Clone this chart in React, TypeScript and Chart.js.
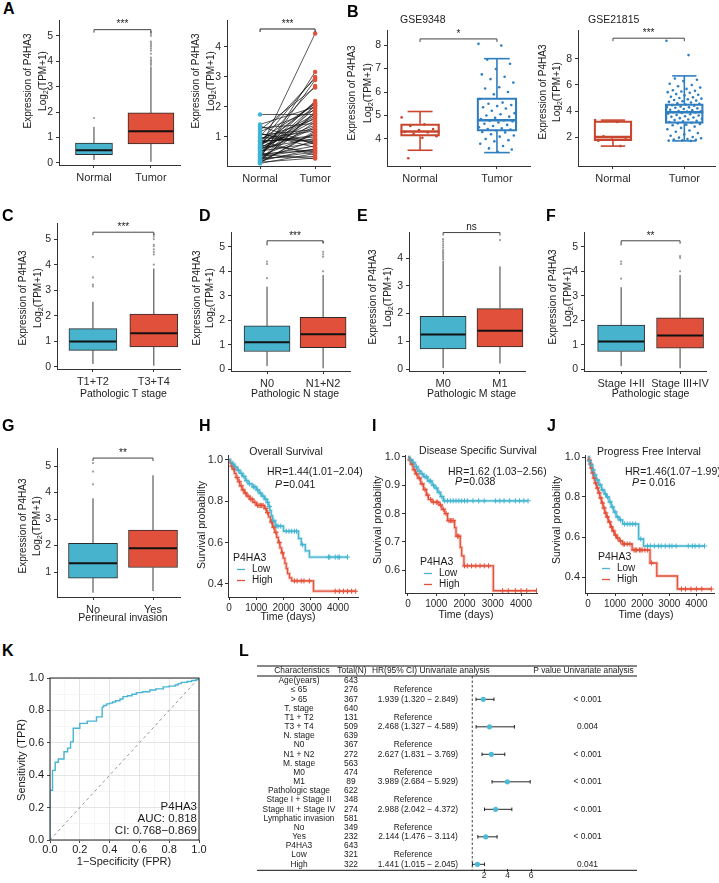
import React, { useEffect, useRef } from 'react';
import { Chart, registerables } from 'chart.js';

Chart.register(...registerables);

// ====================== DATA ======================
// box stats: [lower whisker, Q1, median, Q3, upper whisker]
const A_CATS = ['Normal', 'Tumor'];
const A1_TICKS = [0, 1, 2, 3, 4, 5];
const A1_NORMAL_BOX = [0.12, 0.33, 0.5, 0.78, 1.42];
const A1_TUMOR_BOX = [0.05, 0.75, 1.25, 1.97, 3.8];
const A1_NORMAL_OUT = [1.77];
const A1_TUMOR_OUT = [3.86, 3.92, 3.98, 4.03, 4.08, 4.15, 4.3, 4.42, 4.5, 4.58, 4.65, 4.72, 4.78, 5.0, 5.08, 5.15];

const A2_TICKS = [1, 2, 3, 4];
const A2_NORMAL = [0.12, 0.14, 0.16, 0.18, 0.2, 0.22, 0.24, 0.27, 0.3, 0.33, 0.36, 0.38, 0.41, 0.44, 0.47, 0.5, 0.53, 0.56, 0.6, 0.63, 0.66, 0.7, 0.73, 0.76, 0.8, 0.83, 0.86, 0.9, 0.94, 0.98, 1.02, 1.07, 1.12, 1.18, 1.24, 1.3, 1.36, 1.42, 1.75, 0.15, 0.28, 0.42, 0.58, 0.72, 0.88, 0.2, 0.35, 0.52, 0.68, 0.85, 0.25, 0.45, 0.62, 0.95, 1.1];
const A2_TUMOR = [0.45, 1.2, 0.3, 1.85, 0.6, 2.05, 0.9, 1.5, 0.35, 2.9, 1.1, 0.7, 1.95, 0.55, 2.2, 1.3, 0.8, 1.65, 4.45, 0.95, 1.4, 2.15, 0.5, 1.75, 3.0, 1.05, 0.4, 2.1, 1.6, 0.85, 2.95, 1.25, 0.65, 1.9, 2.65, 1.45, 0.75, 2.0, 1.75, 1.15, 3.17, 0.28, 1.55, 2.7, 0.9, 1.8, 0.6, 1.35, 2.12, 1.0, 0.5, 2.05, 1.7, 1.2, 0.8];

const B1_TICKS = [4, 5, 6, 7, 8];
const B1_NORMAL_BOX = [3.52, 4.12, 4.32, 4.65, 5.17];
const B1_TUMOR_BOX = [3.42, 4.33, 4.8, 5.75, 7.42];
const B1_NORMAL_PTS = [4.92, 4.62, 4.55, 4.42, 4.38, 4.3, 4.28, 4.22, 4.12, 4.05, 3.18];
const B1_TUMOR_PTS = [8.05, 7.98, 7.38, 7.2, 6.98, 6.75, 6.65, 6.55, 6.4, 6.2, 6.15, 6.0, 5.9, 5.7, 5.55, 5.5, 5.45, 5.4, 5.35, 5.3, 5.2, 5.1, 5.05, 5.0, 4.95, 4.9, 4.85, 4.8, 4.78, 4.75, 4.7, 4.65, 4.6, 4.55, 4.5, 4.45, 4.42, 4.4, 4.35, 4.3, 4.28, 4.2, 4.15, 4.1, 4.0, 3.95, 3.9, 3.8, 3.7, 3.6, 3.55, 3.45];

const B2_TICKS = [2, 4, 6, 8];
const B2_NORMAL_BOX = [1.3, 1.72, 2.0, 3.25, 3.3];
const B2_TUMOR_BOX = [1.7, 3.05, 3.9, 4.55, 6.7];
const B2_NORMAL_PTS = [3.3, 3.15, 2.05, 1.95, 1.8, 1.72, 1.3];
const B2_TUMOR_PTS = [9.4, 8.3, 6.5, 6.4, 6.3, 6.1, 6.0, 5.9, 5.8, 5.7, 5.6, 5.55, 5.5, 5.45, 5.4, 5.3, 5.25, 5.2, 5.1, 5.05, 5.0, 4.95, 4.9, 4.85, 4.8, 4.75, 4.7, 4.65, 4.6, 4.55, 4.5, 4.45, 4.4, 4.35, 4.3, 4.28, 4.25, 4.2, 4.15, 4.1, 4.05, 4.0, 3.98, 3.95, 3.9, 3.88, 3.85, 3.8, 3.75, 3.7, 3.65, 3.6, 3.55, 3.5, 3.45, 3.4, 3.35, 3.3, 3.25, 3.2, 3.15, 3.1, 3.05, 3.0, 2.95, 2.9, 2.8, 2.7, 2.6, 2.5, 2.4, 2.3, 2.2, 2.1, 2.0, 1.95, 1.9, 1.85, 1.8, 1.78, 1.75, 1.72, 1.7];

const STAGE_TICKS = [0, 1, 2, 3, 4, 5];
const C_CATS = ['T1+T2', 'T3+T4'];
const C_LOW_BOX = [0.12, 0.65, 1.0, 1.5, 2.55];
const C_HIGH_BOX = [0.05, 0.78, 1.32, 2.07, 3.85];
const C_LOW_OUT = [3.15, 3.22, 3.5, 4.3];
const C_HIGH_OUT = [4.0, 4.4, 4.5, 4.6, 4.72, 4.78, 5.0, 5.1, 5.18];

const D_CATS = ['N0', 'N1+N2'];
const D_LOW_BOX = [0.12, 0.72, 1.1, 1.77, 3.37];
const D_HIGH_BOX = [0.03, 0.87, 1.42, 2.12, 3.85];
const D_LOW_OUT = [3.72, 4.3, 4.4, 5.1];
const D_HIGH_OUT = [4.0, 4.6, 4.7, 4.8, 5.2];

const E_TICKS = [0, 1, 2, 3, 4];
const E_CATS = ['M0', 'M1'];
const E_LOW_BOX = [0.03, 0.73, 1.25, 1.9, 3.9];
const E_HIGH_BOX = [0.2, 0.8, 1.38, 2.18, 3.7];
const E_LOW_OUT = [3.95, 4.0, 4.05, 4.1, 4.15, 4.2, 4.25, 4.3, 4.38, 4.45, 4.52, 4.6, 4.68];
const E_HIGH_OUT = [4.65];

const F_CATS = ['Stage I+II', 'Stage III+IV'];
const F_LOW_BOX = [0.12, 0.72, 1.13, 1.8, 3.35];
const F_HIGH_BOX = [0.03, 0.85, 1.37, 2.1, 3.85];
const F_LOW_OUT = [3.7, 4.3, 4.4, 5.1];
const F_HIGH_OUT = [4.0, 4.55, 4.62];

const G_TICKS = [1, 2, 3, 4, 5];
const G_CATS = ['No', 'Yes'];
const G_LOW_BOX = [0.22, 0.77, 1.33, 2.08, 3.78];
const G_HIGH_BOX = [0.28, 1.17, 1.9, 2.58, 4.65];
const G_LOW_OUT = [4.31, 4.79, 5.11];
const G_HIGH_OUT: number[] = [];

// Kaplan-Meier: event times (days) and survival after each event; censor times
const KM_XTICKS = [0, 1000, 2000, 3000, 4000];
const H_LOW_T = [0, 50, 120, 200, 300, 400, 500, 600, 700, 850, 1000, 1100, 1200, 1300, 1400, 1450, 1500, 1550, 1600, 1700, 2000, 2550, 2650, 2800, 2950];
const H_LOW_S = [1, 0.99, 0.98, 0.965, 0.95, 0.935, 0.92, 0.9, 0.885, 0.87, 0.855, 0.84, 0.825, 0.81, 0.795, 0.775, 0.755, 0.73, 0.705, 0.68, 0.655, 0.62, 0.59, 0.56, 0.53];
const H_LOW_CENS = [150, 250, 350, 450, 550, 650, 750, 900, 950, 1050, 1150, 1250, 1350, 1420, 1480, 1650, 1750, 1800, 1900, 2100, 2200, 2300, 2400, 2480, 2700, 3650, 3700, 3900, 4000, 4050, 4350];
const H_HIGH_T = [0, 40, 90, 140, 200, 260, 330, 400, 480, 560, 650, 760, 880, 1000, 1300, 1380, 1450, 1520, 1600, 1680, 1750, 1810, 1870, 1930, 1990, 2050, 2100, 2150, 2220, 2300, 3100];
const H_HIGH_S = [1, 0.985, 0.97, 0.955, 0.935, 0.915, 0.895, 0.875, 0.855, 0.84, 0.825, 0.81, 0.795, 0.78, 0.765, 0.745, 0.725, 0.7, 0.675, 0.65, 0.625, 0.6, 0.575, 0.55, 0.525, 0.5, 0.475, 0.45, 0.43, 0.415, 0.365];
const H_HIGH_CENS = [100, 180, 300, 380, 450, 520, 600, 700, 800, 850, 950, 1050, 1100, 1150, 1200, 1250, 1350, 1420, 1560, 1640, 1720, 1850, 1960, 2400, 2500, 2650, 2750, 2950, 3900, 4050, 4200, 4350, 4500, 4650];

const I_LOW_T = [0, 50, 150, 250, 350, 450, 550, 700, 850, 950, 1050, 1150, 1250];
const I_LOW_S = [1, 0.99, 0.98, 0.965, 0.95, 0.94, 0.93, 0.915, 0.9, 0.89, 0.875, 0.86, 0.845];
const I_LOW_CENS = [100, 200, 300, 400, 500, 600, 650, 750, 800, 900, 1000, 1100, 1200, 1300, 1400, 1500, 1600, 1700, 1800, 1900, 2000, 2100, 2300, 2500, 2700, 3100, 3250, 3400, 3600, 3800, 3950, 4100, 4250];
const I_HIGH_T = [0, 40, 100, 180, 260, 350, 450, 550, 650, 720, 850, 1100, 1200, 1300, 1400, 1650, 1700, 1850, 1900, 1980, 3020];
const I_HIGH_S = [1, 0.99, 0.975, 0.955, 0.94, 0.925, 0.905, 0.885, 0.865, 0.85, 0.84, 0.83, 0.815, 0.8, 0.775, 0.75, 0.72, 0.68, 0.65, 0.615, 0.527];
const I_HIGH_CENS = [70, 140, 220, 300, 400, 500, 600, 700, 800, 900, 1000, 1050, 1150, 1250, 1350, 1450, 1500, 1550, 1600, 1750, 1800, 2000, 2100, 2250, 2400, 2550, 2700, 2850, 3350, 3550, 3800, 4000, 4200, 4550];

const J_LOW_T = [0, 40, 100, 160, 220, 300, 400, 500, 600, 680, 780, 860, 950, 1040, 1150, 1280, 1870, 2050];
const J_LOW_S = [1, 0.98, 0.96, 0.935, 0.91, 0.885, 0.86, 0.835, 0.815, 0.8, 0.775, 0.75, 0.725, 0.7, 0.685, 0.665, 0.59, 0.555];
const J_LOW_CENS = [60, 130, 200, 260, 350, 450, 550, 650, 720, 820, 900, 1000, 1100, 1200, 1350, 1450, 1550, 1650, 1750, 1950, 2200, 2300, 2450, 2600, 2700, 2850, 3000, 3100, 3250, 3700, 3850, 3950, 4100, 4300];
const J_HIGH_T = [0, 30, 70, 110, 150, 200, 260, 320, 380, 440, 500, 560, 620, 680, 750, 830, 900, 980, 1060, 1150, 1270, 1630, 2290, 2540, 3300];
const J_HIGH_S = [1, 0.985, 0.965, 0.945, 0.92, 0.895, 0.87, 0.845, 0.82, 0.795, 0.77, 0.745, 0.72, 0.7, 0.675, 0.65, 0.63, 0.61, 0.595, 0.58, 0.565, 0.535, 0.47, 0.405, 0.34];
const J_HIGH_CENS = [50, 90, 130, 180, 230, 280, 350, 420, 480, 540, 600, 660, 720, 800, 870, 950, 1020, 1100, 1200, 1300, 1350, 1450, 1550, 1700, 1750, 1800, 1900, 1950, 2000, 2100, 2200, 2350, 3450, 3600, 3800, 4000, 4200, 4550];

// ROC
const ROC_TICKS = [0, 0.1, 0.2, 0.3, 0.4, 0.5, 0.6, 0.7, 0.8, 0.9, 1.0];
const ROC_FPR = [0, 0, 0.017, 0.035, 0.056, 0.094, 0.118, 0.138, 0.156, 0.2, 0.25, 0.312, 0.35, 0.36, 0.38, 0.4, 0.42, 0.44, 0.47, 0.49, 0.52, 0.55, 0.58, 0.62, 0.67, 0.71, 0.76, 0.8, 0.84, 0.86, 0.88, 0.92, 0.95, 0.98, 1.0];
const ROC_TPR = [0, 0.307, 0.43, 0.48, 0.5, 0.545, 0.567, 0.606, 0.69, 0.72, 0.734, 0.76, 0.82, 0.83, 0.84, 0.845, 0.852, 0.86, 0.87, 0.885, 0.89, 0.9, 0.91, 0.915, 0.926, 0.933, 0.945, 0.95, 0.957, 0.965, 0.973, 0.978, 0.985, 0.99, 1.0];

// Forest table
const L_ROWS = ['Age(years)', '≤ 65', '> 65', 'T. stage', 'T1 + T2', 'T3 + T4', 'N. stage', 'N0', 'N1 + N2', 'M. stage', 'M0', 'M1', 'Pathologic stage', 'Stage I + Stage II', 'Stage III + Stage IV', 'Lymphatic invasion', 'No', 'Yes', 'P4HA3', 'Low', 'High'];
const L_TOTAL = [643, 276, 367, 640, 131, 509, 639, 367, 272, 563, 474, 89, 622, 348, 274, 581, 349, 232, 643, 321, 322];
const L_REF = [false, true, false, false, true, false, false, true, false, false, true, false, false, true, false, false, true, false, false, true, false];
const L_HR = [null, null, 1.939, null, null, 2.468, null, null, 2.627, null, null, 3.989, null, null, 2.988, null, null, 2.144, null, null, 1.441];
const L_LO = [null, null, 1.32, null, null, 1.327, null, null, 1.831, null, null, 2.684, null, null, 2.042, null, null, 1.476, null, null, 1.015];
const L_HI = [null, null, 2.849, null, null, 4.589, null, null, 3.769, null, null, 5.929, null, null, 4.372, null, null, 3.114, null, null, 2.045];
const L_P = ['', '', '< 0.001', '', '', '0.004', '', '', '< 0.001', '', '', '< 0.001', '', '', '< 0.001', '', '', '< 0.001', '', '', '0.041'];
const L_TICKS = [2, 4, 6];

// ====================== STYLE / HELPERS ======================
const FONT = '"Liberation Sans", Arial, Helvetica, sans-serif';
const AX = '#333333';
const TXT = '#1a1a1a';
const TICKTXT = '#2b2b2b';
const BLUE = '#47B3CC';
const RED = '#E1503A';
const OUT_GRAY = '#9a9a9a';
const B_RED = '#C8452E';
const B_BLUE = '#2F7EC0';
const KM_BLUE = '#45B5D1';
const KM_RED = '#E4513B';
const KM_BLUE_HALO = 'rgba(69,181,209,0.3)';
const KM_RED_HALO = 'rgba(228,81,59,0.3)';

type Rect = [number, number, number, number];
type Area = [number, number, number, number];

const jit = (k: number) => ((k * 0.6180339887) % 1) - 0.5;

function mkG(chart: any, rect: Rect) {
  return {
    ctx: chart.ctx as CanvasRenderingContext2D,
    X: (v: number) => chart.scales.x.getPixelForValue(v),
    Y: (v: number) => chart.scales.y.getPixelForValue(v),
    px: (x: number) => x - rect[0],
    py: (y: number) => y - rect[1],
  };
}

function text(ctx: CanvasRenderingContext2D, s: string, x: number, y: number, size: number, o: any = {}) {
  ctx.save();
  ctx.translate(x, y);
  if (o.rot) ctx.rotate(o.rot);
  ctx.font = `${o.italic ? 'italic ' : ''}${o.bold ? 'bold ' : ''}${size}px ${FONT}`;
  ctx.fillStyle = o.color || TXT;
  ctx.textAlign = o.align || 'center';
  ctx.textBaseline = o.baseline || 'middle';
  ctx.fillText(s, 0, 0);
  ctx.restore();
}

function seg(ctx: CanvasRenderingContext2D, x1: number, y1: number, x2: number, y2: number, color: string, w: number, dash?: number[]) {
  ctx.save();
  ctx.strokeStyle = color;
  ctx.lineWidth = w;
  if (dash) ctx.setLineDash(dash);
  ctx.beginPath();
  ctx.moveTo(x1, y1);
  ctx.lineTo(x2, y2);
  ctx.stroke();
  ctx.restore();
}

function log2Title(ctx: CanvasRenderingContext2D, x: number, y: number, size: number) {
  ctx.save();
  ctx.translate(x, y);
  ctx.rotate(-Math.PI / 2);
  ctx.fillStyle = TXT;
  ctx.textBaseline = 'middle';
  ctx.textAlign = 'left';
  const f1 = `${size}px ${FONT}`;
  const f2 = `${size * 0.72}px ${FONT}`;
  ctx.font = f1;
  const w1 = ctx.measureText('Log').width;
  const w3 = ctx.measureText('(TPM+1)').width;
  ctx.font = f2;
  const w2 = ctx.measureText('2').width;
  const sx = -(w1 + w2 + w3) / 2;
  ctx.font = f1;
  ctx.fillText('Log', sx, 0);
  ctx.font = f2;
  ctx.fillText('2', sx + w1, size * 0.32);
  ctx.font = f1;
  ctx.fillText('(TPM+1)', sx + w1 + w2, 0);
  ctx.restore();
}

function axis(kind: 'x' | 'y', min: number, max: number, ticks: number[], labels: (v: number, i: number) => string, fit: number, size: number, o: any = {}) {
  return {
    type: 'linear',
    min, max, bounds: 'data', offset: false,
    display: o.display ?? true,
    reverse: o.reverse ?? false,
    afterBuildTicks: (s: any) => { s.ticks = ticks.map((v) => ({ value: v })); },
    afterFit: (s: any) => { if (kind === 'x') s.height = fit; else s.width = fit; },
    ticks: {
      autoSkip: false, maxRotation: 0, minRotation: 0,
      padding: o.pad ?? 3,
      color: o.color ?? TICKTXT,
      font: { family: FONT, size },
      callback: (v: any, i: number) => labels(Number(v), i),
    },
    grid: o.grid ?? { drawOnChartArea: false, drawTicks: true, tickLength: o.tl ?? 3, tickColor: AX, tickWidth: 1, offset: false },
    border: { display: o.border ?? true, color: AX, width: 1 },
  };
}

function baseConfig(rect: Rect, area: Area, datasets: any[], scales: any, plugins: any[], yHidden = false) {
  return {
    type: 'scatter',
    data: { datasets },
    options: {
      responsive: false,
      animation: false,
      events: [],
      layout: {
        padding: {
          left: yHidden ? area[0] - rect[0] : 0,
          top: area[1] - rect[1],
          right: rect[0] + rect[2] - area[2],
          bottom: 0,
        },
      },
      plugins: { legend: { display: false }, tooltip: { enabled: false } },
      scales,
    },
    plugins,
  };
}

// ====================== BOX PLOTS ======================
interface BoxSpec {
  rect: Rect; area: Area; xr: number[]; yr: number[]; yTicks: number[];
  cats: string[]; boxes: number[][]; widths: number[]; colors: string[];
  points: number[][]; outline?: boolean; jitter?: number;
  bracket: { y: number; label: string };
  yTitle: { x1: number; x2: number; cy: number };
  xTitle?: { text: string; y: number };
  title?: { text: string; x: number; y: number };
}

function boxConfig(s: BoxSpec) {
  const [cx, cy, cw, ch] = s.rect;
  const [l, , , b] = s.area;
  const datasets: any[] = [];
  s.points.forEach((vals, i) => {
    datasets.push({
      type: 'scatter',
      data: vals.map((v, k) => ({ x: i + 1 + (s.jitter ? jit(k) * s.jitter : 0), y: v })),
      pointRadius: s.outline ? 1.3 : 1.1,
      backgroundColor: s.outline ? s.colors[i] : OUT_GRAY,
      borderWidth: 0,
    });
  });
  s.boxes.forEach((bx, i) => {
    datasets.push({
      type: 'bar',
      data: [{ x: i + 1, y: [bx[1], bx[3]] }],
      barThickness: s.widths[i],
      grouped: false,
      borderSkipped: false,
      backgroundColor: s.outline ? 'rgba(255,255,255,0)' : s.colors[i],
      borderColor: s.outline ? s.colors[i] : '#2b2b2b',
      borderWidth: s.outline ? 1.6 : 1,
    });
  });
  const plugin = {
    id: 'boxparts',
    beforeDatasetsDraw(chart: any) {
      const g = mkG(chart, s.rect);
      s.boxes.forEach((bx, i) => {
        const x = g.X(i + 1);
        const col = s.outline ? s.colors[i] : '#3a3a3a';
        const lw = s.outline ? 1.6 : 1;
        seg(g.ctx, x, g.Y(bx[0]), x, g.Y(bx[1]), col, lw);
        seg(g.ctx, x, g.Y(bx[3]), x, g.Y(bx[4]), col, lw);
        if (s.outline) {
          const hw = s.widths[i] * 0.32;
          seg(g.ctx, x - hw, g.Y(bx[0]), x + hw, g.Y(bx[0]), col, lw);
          seg(g.ctx, x - hw, g.Y(bx[4]), x + hw, g.Y(bx[4]), col, lw);
          seg(g.ctx, x - s.widths[i] / 2, g.Y(bx[2]), x + s.widths[i] / 2, g.Y(bx[2]), col, 2.6);
        }
      });
    },
    afterDatasetsDraw(chart: any) {
      const g = mkG(chart, s.rect);
      if (!s.outline) {
        s.boxes.forEach((bx, i) => {
          const x = g.X(i + 1);
          seg(g.ctx, x - s.widths[i] / 2 + 0.5, g.Y(bx[2]), x + s.widths[i] / 2 - 0.5, g.Y(bx[2]), '#111', 2);
        });
      }
    },
    afterDraw(chart: any) {
      const g = mkG(chart, s.rect);
      const ctx = g.ctx;
      // significance bracket
      const by = g.Y(s.bracket.y);
      const x1 = g.X(1), x2 = g.X(2);
      ctx.save();
      ctx.strokeStyle = '#444';
      ctx.lineWidth = 1;
      ctx.beginPath();
      ctx.moveTo(x1, by + 3); ctx.lineTo(x1, by); ctx.lineTo(x2, by); ctx.lineTo(x2, by + 3);
      ctx.stroke();
      ctx.restore();
      text(ctx, s.bracket.label, (x1 + x2) / 2, by - 5, 10);
      // axis titles
      text(ctx, 'Expression of P4HA3', g.px(s.yTitle.x1), g.py(s.yTitle.cy), 10, { rot: -Math.PI / 2 });
      log2Title(ctx, g.px(s.yTitle.x2), g.py(s.yTitle.cy), 10);
      if (s.xTitle) text(ctx, s.xTitle.text, (x1 + x2) / 2, g.py(s.xTitle.y), 10.5);
      if (s.title) text(ctx, s.title.text, g.px(s.title.x), g.py(s.title.y), 10.5, { align: 'left' });
    },
  };
  const scales = {
    x: axis('x', s.xr[0], s.xr[1], [1, 2], (_v, i) => s.cats[i] ?? '', cy + ch - b, 11),
    y: axis('y', s.yr[0], s.yr[1], s.yTicks, (v) => String(v), l - cx, 10.5),
  };
  return baseConfig(s.rect, s.area, datasets, scales, [plugin]);
}

function pairedConfig() {
  const rect: Rect = [185, 0, 160, 195];
  const area: Area = [227, 20, 330, 166];
  const lineData: any[] = [];
  A2_NORMAL.forEach((n, i) => {
    lineData.push({ x: 1, y: n }, { x: 2, y: A2_TUMOR[i] }, { x: 1.5, y: null });
  });
  const datasets = [
    { type: 'scatter', data: A2_NORMAL.map((v) => ({ x: 1, y: v })), pointRadius: 2.2, backgroundColor: '#3DB4D2', borderWidth: 0 },
    { type: 'scatter', data: A2_TUMOR.map((v) => ({ x: 2, y: v })), pointRadius: 2.2, backgroundColor: '#E5503A', borderWidth: 0 },
    { type: 'line', data: lineData, borderColor: '#111', borderWidth: 0.7, pointRadius: 0, spanGaps: false, fill: false },
  ];
  const plugin = {
    id: 'paired',
    afterDraw(chart: any) {
      const g = mkG(chart, rect);
      const ctx = g.ctx;
      const by = g.Y(4.6);
      const x1 = g.X(1), x2 = g.X(2);
      ctx.save();
      ctx.strokeStyle = '#222';
      ctx.lineWidth = 1;
      ctx.beginPath();
      ctx.moveTo(x1, by + 3); ctx.lineTo(x1, by); ctx.lineTo(x2, by); ctx.lineTo(x2, by + 3);
      ctx.stroke();
      ctx.restore();
      text(ctx, '***', (x1 + x2) / 2, by - 5, 10);
      text(ctx, 'Expression of P4HA3', g.px(196), g.py(81), 10, { rot: -Math.PI / 2 });
      log2Title(ctx, g.px(211), g.py(81), 10);
    },
  };
  const scales = {
    x: axis('x', 0.4, 2.27, [1, 2], (_v, i) => A_CATS[i] ?? '', rect[1] + rect[3] - area[3], 11),
    y: axis('y', 0.033, 4.9, A2_TICKS, (v) => String(v), area[0] - rect[0], 10.5),
  };
  return baseConfig(rect, area, datasets, scales, [plugin]);
}

// ====================== KAPLAN-MEIER ======================
function stepAt(t: number, T: number[], S: number[]) {
  let s = S[0];
  for (let i = 0; i < T.length; i++) if (T[i] <= t) s = S[i];
  return s;
}

interface KMSpec {
  rect: Rect; area: Area; xr: number[]; yr: number[]; yTicks: number[];
  lowT: number[]; lowS: number[]; lowC: number[];
  highT: number[]; highS: number[]; highC: number[];
  title: { text: string; x: number; y: number };
  hr: { text: string; x: number; y: number };
  p: { text: string; x: number; y: number };
  legend: { x: number; y: number };
  yTitle: { x: number; cy: number };
  xTitleY: number;
}

function kmLine(T: number[], S: number[], C: number[]) {
  const pts = T.map((t, i) => ({ x: t, y: S[i] }));
  const end = Math.max(T[T.length - 1], ...C);
  pts.push({ x: end, y: S[S.length - 1] });
  return pts;
}

function kmConfig(s: KMSpec) {
  const [cx, cy, cw, ch] = s.rect;
  const [l, , , b] = s.area;
  const lowLine = kmLine(s.lowT, s.lowS, s.lowC);
  const highLine = kmLine(s.highT, s.highS, s.highC);
  const datasets = [
    { type: 'scatter', data: s.lowC.map((t) => ({ x: t, y: stepAt(t, s.lowT, s.lowS) })), pointStyle: 'cross', pointRadius: 2.6, borderColor: KM_BLUE, backgroundColor: KM_BLUE, borderWidth: 1 },
    { type: 'scatter', data: s.highC.map((t) => ({ x: t, y: stepAt(t, s.highT, s.highS) })), pointStyle: 'cross', pointRadius: 2.6, borderColor: KM_RED, backgroundColor: KM_RED, borderWidth: 1 },
    { type: 'line', data: lowLine, stepped: 'before', borderColor: KM_BLUE, borderWidth: 1.3, pointRadius: 0, fill: false },
    { type: 'line', data: highLine, stepped: 'before', borderColor: KM_RED, borderWidth: 1.3, pointRadius: 0, fill: false },
    { type: 'line', data: lowLine, stepped: 'before', borderColor: KM_BLUE_HALO, borderWidth: 3.2, pointRadius: 0, fill: false },
    { type: 'line', data: highLine, stepped: 'before', borderColor: KM_RED_HALO, borderWidth: 3.2, pointRadius: 0, fill: false },
  ];
  const plugin = {
    id: 'km',
    afterDraw(chart: any) {
      const g = mkG(chart, s.rect);
      const ctx = g.ctx;
      text(ctx, s.title.text, g.px(s.title.x), g.py(s.title.y), 10.5);
      text(ctx, s.hr.text, g.px(s.hr.x), g.py(s.hr.y), 10.5, { align: 'left' });
      ctx.save();
      ctx.font = `italic 10.5px ${FONT}`;
      const wP = ctx.measureText('P').width;
      ctx.restore();
      text(ctx, 'P', g.px(s.p.x), g.py(s.p.y), 10.5, { align: 'left', italic: true });
      text(ctx, s.p.text, g.px(s.p.x) + wP + 1, g.py(s.p.y), 10.5, { align: 'left' });
      const lx = g.px(s.legend.x), ly = g.py(s.legend.y);
      text(ctx, 'P4HA3', lx, ly, 10.5, { align: 'left' });
      seg(ctx, lx + 4, ly + 11.5, lx + 12, ly + 11.5, KM_BLUE, 1.3);
      text(ctx, 'Low', lx + 19, ly + 11.5, 10, { align: 'left' });
      seg(ctx, lx + 4, ly + 22.5, lx + 12, ly + 22.5, KM_RED, 1.3);
      text(ctx, 'High', lx + 19, ly + 22.5, 10, { align: 'left' });
      text(ctx, 'Survival probability', g.px(s.yTitle.x), g.py(s.yTitle.cy), 10.5, { rot: -Math.PI / 2 });
      const [al, , ar] = s.area;
      text(ctx, 'Time (days)', g.px((al + ar) / 2 - 5), g.py(s.xTitleY), 10.5);
    },
  };
  const scales = {
    x: axis('x', s.xr[0], s.xr[1], KM_XTICKS, (v) => String(v), cy + ch - b, 10, { pad: 2 }),
    y: axis('y', s.yr[0], s.yr[1], s.yTicks, (v) => v.toFixed(1), l - cx, 11, { pad: 2 }),
  };
  return baseConfig(s.rect, s.area, datasets, scales, [plugin]);
}

// ====================== ROC ======================
function rocConfig() {
  const rect: Rect = [10, 660, 230, 223];
  const area: Area = [50, 678, 199, 840];
  const datasets = [
    { type: 'line', data: ROC_FPR.map((f, i) => ({ x: f, y: ROC_TPR[i] })), stepped: 'before', borderColor: '#45B5D1', borderWidth: 1.4, pointRadius: 0, fill: false },
    { type: 'line', data: [{ x: 0, y: 0 }, { x: 1, y: 1 }], borderColor: '#8a8a8a', borderWidth: 0.9, borderDash: [3, 3], pointRadius: 0, fill: false },
  ];
  const isMajor = (v: number) => Math.round(v * 10) % 2 === 0;
  const grid = {
    drawOnChartArea: true, drawTicks: true, tickLength: 3, offset: false,
    color: (c: any) => (c.tick && isMajor(c.tick.value) ? '#E2E2E2' : '#F0F0F0'),
    lineWidth: (c: any) => (c.tick && isMajor(c.tick.value) ? 0.9 : 0.6),
    tickColor: (c: any) => (c.tick && isMajor(c.tick.value) ? AX : 'rgba(0,0,0,0)'),
  };
  const lab = (v: number) => (isMajor(v) ? v.toFixed(1) : '');
  const plugin = {
    id: 'roc',
    afterDraw(chart: any) {
      const g = mkG(chart, rect);
      const ctx = g.ctx;
      const a = chart.chartArea;
      ctx.save();
      ctx.strokeStyle = '#222';
      ctx.lineWidth = 1;
      ctx.strokeRect(a.left, a.top, a.right - a.left, a.bottom - a.top);
      ctx.restore();
      text(ctx, 'P4HA3', g.px(197), g.py(807), 11.5, { align: 'right' });
      text(ctx, 'AUC: 0.818', g.px(197), g.py(818.5), 11.5, { align: 'right' });
      text(ctx, 'CI: 0.768−0.869', g.px(197), g.py(830.5), 11.5, { align: 'right' });
      text(ctx, 'Sensitivity (TPR)', g.px(22), g.py(760), 11, { rot: -Math.PI / 2 });
      text(ctx, '1−Specificity (FPR)', g.px(124), g.py(862), 11);
    },
  };
  const scales = {
    x: axis('x', 0, 1, ROC_TICKS, lab, rect[1] + rect[3] - area[3], 11, { grid, border: false, pad: 0, color: TXT }),
    y: axis('y', 0, 1, ROC_TICKS, lab, area[0] - rect[0], 11, { grid, border: false, pad: 3, color: TXT }),
  };
  return baseConfig(rect, area, datasets, scales, [plugin]);
}

// ====================== FOREST ======================
function forestConfig() {
  const rect: Rect = [245, 655, 474, 228];
  const area: Area = [460.5, 676.4, 531, 868.9];
  const pts: any[] = [];
  L_HR.forEach((h, i) => { if (h != null) pts.push({ x: h, y: i }); });
  const datasets = [
    { type: 'scatter', data: pts, pointRadius: 2.6, backgroundColor: '#4DBBD5', borderWidth: 0 },
  ];
  const LX0 = 257, LX1 = 637;
  const plugin = {
    id: 'forest',
    beforeDatasetsDraw(chart: any) {
      const g = mkG(chart, rect);
      const ctx = g.ctx;
      seg(ctx, g.X(1), g.py(676), g.X(1), g.py(870), '#111', 0.8, [2.5, 2]);
      L_HR.forEach((h, i) => {
        if (h == null) return;
        const y = g.Y(i);
        const x1 = g.X(L_LO[i] as number), x2 = g.X(L_HI[i] as number);
        seg(ctx, x1, y, x2, y, '#111', 0.9);
        seg(ctx, x1, y - 1.8, x1, y + 1.8, '#111', 0.9);
        seg(ctx, x2, y - 1.8, x2, y + 1.8, '#111', 0.9);
      });
    },
    afterDraw(chart: any) {
      const g = mkG(chart, rect);
      const ctx = g.ctx;
      const fs = 8.4;
      seg(ctx, g.px(LX0), g.py(666), g.px(LX1), g.py(666), '#111', 1);
      seg(ctx, g.px(LX0), g.py(676), g.px(LX1), g.py(676), '#111', 1);
      seg(ctx, g.px(LX0), g.py(870.3), g.px(LX1), g.py(870.3), '#111', 1);
      const hy = g.py(671);
      text(ctx, 'Characteristics', g.px(302), hy, fs);
      text(ctx, 'Total(N)', g.px(352), hy, fs);
      text(ctx, 'HR(95% CI) Univariate analysis', g.px(372), hy, fs, { align: 'left' });
      text(ctx, 'P value Univariate analysis', g.px(583.5), hy, fs);
      L_ROWS.forEach((r, i) => {
        const y = g.Y(i);
        text(ctx, r, g.px(299), y, fs);
        text(ctx, String(L_TOTAL[i]), g.px(351), y, fs);
        const h = L_HR[i];
        if (L_REF[i]) text(ctx, 'Reference', g.px(413), y, fs);
        if (h != null) {
          const s = `${h.toFixed(3)} (${(L_LO[i] as number).toFixed(3)} − ${(L_HI[i] as number).toFixed(3)})`;
          text(ctx, s, g.px(418), y, fs);
        }
        if (L_P[i]) text(ctx, L_P[i], g.px(587.5), y, fs);
      });
    },
  };
  const scales = {
    x: axis('x', 0, 6, L_TICKS, (v) => String(v), rect[1] + rect[3] - area[3], 8.5, { border: false, pad: -1, tl: 3 }),
    y: axis('y', -0.5, 20.5, [], () => '', 0, 8, { display: false, reverse: true }),
  };
  return baseConfig(rect, area, datasets, scales, [plugin], true);
}

// ====================== PANEL SPECS ======================
const PANELS: { rect: Rect; build: () => any }[] = [
  {
    rect: [15, 0, 175, 195],
    build: () => boxConfig({
      rect: [15, 0, 175, 195], area: [59, 20, 180, 165], xr: [0.386, 2.51], yr: [-0.08, 5.63], yTicks: A1_TICKS,
      cats: A_CATS, boxes: [A1_NORMAL_BOX, A1_TUMOR_BOX], widths: [37, 46], colors: [BLUE, RED],
      points: [A1_NORMAL_OUT, A1_TUMOR_OUT], bracket: { y: 5.25, label: '***' },
      yTitle: { x1: 28, x2: 43, cy: 81 },
    }),
  },
  { rect: [185, 0, 160, 195], build: pairedConfig },
  {
    rect: [345, 0, 195, 195],
    build: () => boxConfig({
      rect: [345, 0, 195, 195], area: [387, 30, 530, 166], xr: [0.57, 2.43], yr: [2.85, 8.64], yTicks: B1_TICKS,
      cats: A_CATS, boxes: [B1_NORMAL_BOX, B1_TUMOR_BOX], widths: [39, 40], colors: [B_RED, B_BLUE],
      points: [B1_NORMAL_PTS, B1_TUMOR_PTS], outline: true, jitter: 0.48, bracket: { y: 8.26, label: '*' },
      yTitle: { x1: 352, x2: 368, cy: 93 }, title: { text: 'GSE9348', x: 400, y: 20 },
    }),
  },
  {
    rect: [535, 0, 184, 195],
    build: () => boxConfig({
      rect: [535, 0, 184, 195], area: [578, 30, 716, 166], xr: [0.51, 2.43], yr: [-0.23, 10.23], yTicks: B2_TICKS,
      cats: A_CATS, boxes: [B2_NORMAL_BOX, B2_TUMOR_BOX], widths: [38, 38], colors: [B_RED, B_BLUE],
      points: [B2_NORMAL_PTS, B2_TUMOR_PTS], outline: true, jitter: 0.5, bracket: { y: 9.6, label: '***' },
      yTitle: { x1: 543, x2: 557, cy: 92 }, title: { text: 'GSE21815', x: 588, y: 20 },
    }),
  },
  {
    rect: [10, 200, 180, 200],
    build: () => boxConfig({
      rect: [10, 200, 180, 200], area: [57, 223, 180, 369], xr: [0.41, 2.43], yr: [-0.08, 5.63], yTicks: STAGE_TICKS,
      cats: C_CATS, boxes: [C_LOW_BOX, C_HIGH_BOX], widths: [48, 48], colors: [BLUE, RED],
      points: [C_LOW_OUT, C_HIGH_OUT], bracket: { y: 5.27, label: '***' },
      yTitle: { x1: 23, x2: 38, cy: 298 }, xTitle: { text: 'Pathologic T stage', y: 394 },
    }),
  },
  {
    rect: [190, 200, 170, 200],
    build: () => boxConfig({
      rect: [190, 200, 170, 200], area: [231, 232, 350, 371], xr: [0.357, 2.48], yr: [-0.08, 5.61], yTicks: STAGE_TICKS,
      cats: D_CATS, boxes: [D_LOW_BOX, D_HIGH_BOX], widths: [46, 46], colors: [BLUE, RED],
      points: [D_LOW_OUT, D_HIGH_OUT], bracket: { y: 5.25, label: '***' },
      yTitle: { x1: 197, x2: 210, cy: 298 }, xTitle: { text: 'Pathologic N stage', y: 394 },
    }),
  },
  {
    rect: [360, 200, 175, 200],
    build: () => boxConfig({
      rect: [360, 200, 175, 200], area: [409, 232, 525, 371], xr: [0.4, 2.44], yr: [-0.07, 4.94], yTicks: E_TICKS,
      cats: E_CATS, boxes: [E_LOW_BOX, E_HIGH_BOX], widths: [46, 46], colors: [BLUE, RED],
      points: [E_LOW_OUT, E_HIGH_OUT], bracket: { y: 4.92, label: 'ns' },
      yTitle: { x1: 373, x2: 388, cy: 297 }, xTitle: { text: 'Pathologic M stage', y: 394 },
    }),
  },
  {
    rect: [535, 200, 184, 200],
    build: () => boxConfig({
      rect: [535, 200, 184, 200], area: [584, 232, 706, 371], xr: [0.37, 2.44], yr: [-0.08, 5.61], yTicks: STAGE_TICKS,
      cats: F_CATS, boxes: [F_LOW_BOX, F_HIGH_BOX], widths: [47, 47], colors: [BLUE, RED],
      points: [F_LOW_OUT, F_HIGH_OUT], bracket: { y: 5.25, label: '**' },
      yTitle: { x1: 553, x2: 568, cy: 297 }, xTitle: { text: 'Pathologic stage', y: 394 },
    }),
  },
  {
    rect: [10, 430, 180, 195],
    build: () => boxConfig({
      rect: [10, 430, 180, 195], area: [57, 448, 180, 597], xr: [0.4, 2.45], yr: [0.057, 5.68], yTicks: G_TICKS,
      cats: G_CATS, boxes: [G_LOW_BOX, G_HIGH_BOX], widths: [49, 49], colors: [BLUE, RED],
      points: [G_LOW_OUT, G_HIGH_OUT], bracket: { y: 5.3, label: '**' },
      yTitle: { x1: 23, x2: 37, cy: 526 }, xTitle: { text: 'Perineural invasion', y: 618 },
    }),
  },
  {
    rect: [190, 430, 175, 195],
    build: () => kmConfig({
      rect: [190, 430, 175, 195], area: [228, 455, 358, 597], xr: [-37, 4734], yr: [0.337, 1.024], yTicks: [0.4, 0.6, 0.8, 1.0],
      lowT: H_LOW_T, lowS: H_LOW_S, lowC: H_LOW_CENS, highT: H_HIGH_T, highS: H_HIGH_S, highC: H_HIGH_CENS,
      title: { text: 'Overall Survival', x: 286, y: 452 },
      hr: { text: 'HR=1.44(1.01−2.04)', x: 267, y: 472 },
      p: { text: '=0.041', x: 275, y: 485 },
      legend: { x: 233, y: 558 }, yTitle: { x: 202, cy: 525 }, xTitleY: 617,
    }),
  },
  {
    rect: [365, 430, 187, 195],
    build: () => kmConfig({
      rect: [365, 430, 187, 195], area: [405, 455, 537, 593], xr: [-106, 4566], yr: [0.519, 1.007], yTicks: [0.6, 0.7, 0.8, 0.9, 1.0],
      lowT: I_LOW_T, lowS: I_LOW_S, lowC: I_LOW_CENS, highT: I_HIGH_T, highS: I_HIGH_S, highC: I_HIGH_CENS,
      title: { text: 'Disease Specific Survival', x: 478, y: 451 },
      hr: { text: 'HR=1.62 (1.03−2.56)', x: 448, y: 472 },
      p: { text: '=0.038', x: 455, y: 482 },
      legend: { x: 420, y: 562 }, yTitle: { x: 378, cy: 520 }, xTitleY: 615,
    }),
  },
  {
    rect: [540, 430, 179, 195],
    build: () => kmConfig({
      rect: [540, 430, 179, 195], area: [585, 455, 717, 593], xr: [-108, 4649], yr: [0.32, 1.01], yTicks: [0.4, 0.6, 0.8, 1.0],
      lowT: J_LOW_T, lowS: J_LOW_S, lowC: J_LOW_CENS, highT: J_HIGH_T, highS: J_HIGH_S, highC: J_HIGH_CENS,
      title: { text: 'Progress Free Interval', x: 649, y: 452 },
      hr: { text: 'HR=1.46(1.07−1.99)', x: 625, y: 472 },
      p: { text: '= 0.016', x: 632, y: 483 },
      legend: { x: 598, y: 557 }, yTitle: { x: 557, cy: 520 }, xTitleY: 615,
    }),
  },
  { rect: [10, 660, 230, 223], build: rocConfig },
  { rect: [245, 655, 474, 228], build: forestConfig },
];

const LETTERS: [string, number, number][] = [
  ['A', 3, 1], ['B', 347, 4], ['C', 2, 208], ['D', 199, 208], ['E', 357, 208], ['F', 546, 208],
  ['G', 2, 418], ['H', 199, 418], ['I', 372, 418], ['J', 547, 418], ['K', 2, 643], ['L', 239, 643],
];

function ChartCanvas({ rect, build }: { rect: Rect; build: () => any }) {
  const ref = useRef<HTMLCanvasElement | null>(null);
  useEffect(() => {
    const chart = new Chart(ref.current as HTMLCanvasElement, build());
    return () => chart.destroy();
  }, []);
  return (
    <canvas
      ref={ref}
      width={rect[2]}
      height={rect[3]}
      style={{ position: 'absolute', left: rect[0], top: rect[1], width: rect[2], height: rect[3] }}
    />
  );
}

export default function App() {
  return (
    <div style={{ position: 'absolute', left: 0, top: 0, width: 719, height: 883, background: '#fff', overflow: 'hidden', fontFamily: FONT }}>
      {PANELS.map((p, i) => (
        <ChartCanvas key={i} rect={p.rect} build={p.build} />
      ))}
      {LETTERS.map(([t, x, y]) => (
        <div key={t} style={{ position: 'absolute', left: x, top: y, fontSize: 16, lineHeight: '16px', fontWeight: 'bold', color: '#000', fontFamily: FONT }}>
          {t}
        </div>
      ))}
    </div>
  );
}
